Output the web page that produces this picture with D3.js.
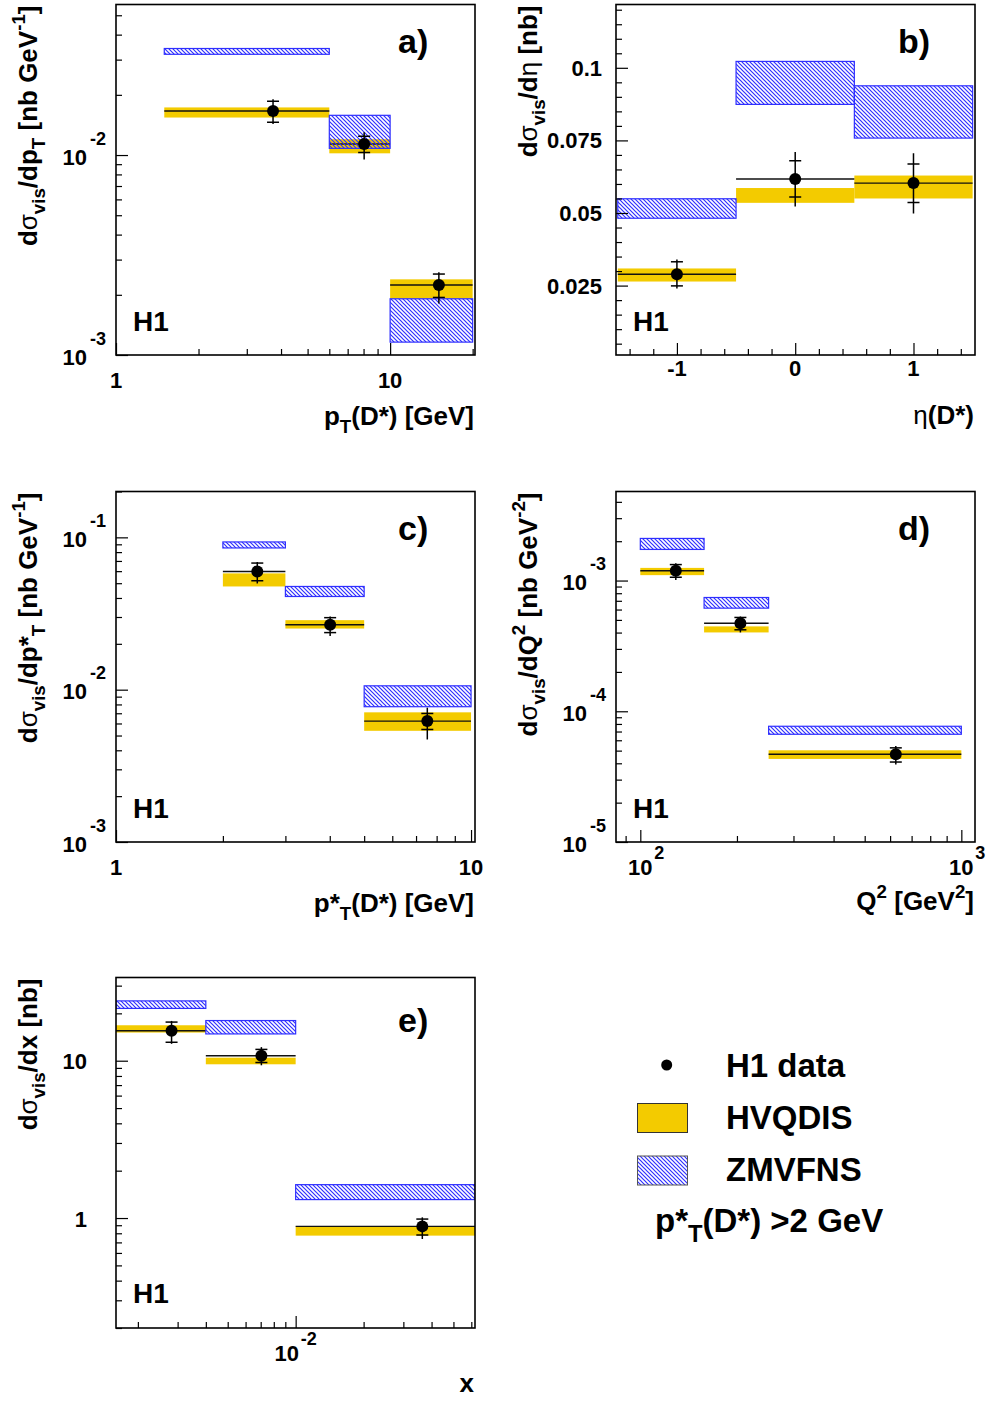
<!DOCTYPE html>
<html>
<head>
<meta charset="utf-8">
<script src="https://cdn.jsdelivr.net/npm/d3@7"></script>
<style>
  body { margin: 0; background: #fff; }
  svg { display: block; font-family: 'Liberation Sans', Arial, Helvetica, sans-serif; font-weight: bold; }
</style>
</head>
<body>
<svg id="fig" width="988" height="1402"></svg>
<script>
// ---------------- data (read off the H1 D* figure) ----------------
// a) pT(D*)
const aEdges = [1.5, 6, 10, 20]
const aX = [3.74, 8.04, 15.06]
const aVal = [0.0166, 0.01135, 0.00224]
const aStat = [[0.0146, 0.0186], [0.0103, 0.0124], [0.00194, 0.00254]]
const aTot = [[0.0143, 0.0190], [0.0095, 0.0130], [0.00181, 0.00259]]
const aHvq = [[0.0154, 0.0173], [0.0102, 0.0120], [0.00191, 0.00239]]
const aZm = [[0.0319, 0.0341], [0.0108, 0.0158], [0.00116, 0.00191]]

// b) eta(D*)
const bEdges = [-1.5, -0.5, 0.5, 1.5]
const bX = [-1, 0, 1]
const bVal = [0.0289, 0.0617, 0.0603]
const bStat = [[0.0249, 0.0332], [0.0555, 0.0680], [0.0536, 0.0669]]
const bTot = [[0.0240, 0.0340], [0.0522, 0.0710], [0.0498, 0.0706]]
const bHvq = [[0.0264, 0.0309], [0.0535, 0.0586], [0.0550, 0.0629]]
const bZm = [[0.0482, 0.0549], [0.0874, 0.1022], [0.0758, 0.0938]]

// c) p*T(D*)
const cEdges = [2, 3, 5, 10]
const cX = [2.50, 4.01, 7.53]
const cVal = [0.0597, 0.0267, 0.00622]
const cStat = [[0.0519, 0.0678], [0.0237, 0.0297], [0.00548, 0.00698]]
const cTot = [[0.0498, 0.0689], [0.0225, 0.0302], [0.00471, 0.00762]]
const cHvq = [[0.0476, 0.0580], [0.0252, 0.0286], [0.00537, 0.00710]]
const cZm = [[0.0852, 0.0933], [0.0409, 0.0476], [0.00773, 0.0106]]

// d) Q2
const dEdges = [100, 158, 251, 1000]
const dX = [129, 205, 625]
const dVal = [1.19e-3, 4.72e-4, 4.69e-5]
const dStat = [[1.06e-3, 1.325e-3], [4.2e-4, 5.22e-4], [4.09e-5, 5.25e-5]]
const dTot = [[1.01e-3, 1.355e-3], [4.01e-4, 5.31e-4], [3.91e-5, 5.42e-5]]
const dHvq = [[1.10e-3, 1.25e-3], [4.01e-4, 4.46e-4], [4.32e-5, 5.03e-5]]
const dZm = [[1.73e-3, 2.10e-3], [6.15e-4, 7.42e-4], [6.67e-5, 7.68e-5]]

// e) x
const eEdges = [0.0016, 0.004, 0.01, 0.0623]
const eX = [0.00282, 0.00705, 0.0364]
const eVal = [15.5, 10.75, 0.885]
const eStat = [[13.1, 17.6], [9.74, 11.8], [0.78, 0.985]]
const eTot = [[12.8, 17.9], [9.35, 12.2], [0.736, 1.01]]
const eHvq = [[15.1, 16.8], [9.49, 10.45], [0.773, 0.885]]
const eZm = [[21.5, 24.0], [14.8, 18.0], [1.31, 1.63]]

// axis ranges and tick labels
const aXDomain = [1, 20.4], aYDomain = [1e-3, 0.0566]
const bXDomain = [-1.515, 1.52], bYDomain = [0.0011, 0.1218]
const cXDomain = [1, 10.26], cYDomain = [1e-3, 0.2]
const dXDomain = [84, 1103], dYDomain = [1e-5, 4.8e-3]
const eXDomain = [0.0016, 0.0623], eYDomain = [0.2, 33.8]

const aXTicks = [1, 10], aXLabels = ['1', '10']
const aYTicks = [1e-3, 1e-2], aYLabels = ['10^-3', '10^-2']
const bXTicks = [-1, 0, 1], bXLabels = ['-1', '0', '1']
const bYTicks = [0.025, 0.05, 0.075, 0.1], bYLabels = ['0.025', '0.05', '0.075', '0.1']
const cXTicks = [1, 10], cXLabels = ['1', '10']
const cYTicks = [1e-3, 1e-2, 1e-1], cYLabels = ['10^-3', '10^-2', '10^-1']
const dXTicks = [100, 1000], dXLabels = ['10^2', '10^3']
const dYTicks = [1e-5, 1e-4, 1e-3], dYLabels = ['10^-5', '10^-4', '10^-3']
const eXTicks = [0.01], eXLabels = ['10^-2']
const eYTicks = [1, 10], eYLabels = ['1', '10']

// titles: [text, mode]  mode n = normal, sub, sup, g = greek (light)
const aYTitle = [['d', 'n'], ['σ', 'g'], ['vis', 'sub'], ['/dp', 'n'], ['T', 'sub'], [' [nb GeV', 'n'], ['-1', 'sup'], [']', 'n']]
const bYTitle = [['d', 'n'], ['σ', 'g'], ['vis', 'sub'], ['/d', 'n'], ['η', 'g'], [' [nb]', 'n']]
const cYTitle = [['d', 'n'], ['σ', 'g'], ['vis', 'sub'], ['/dp*', 'n'], ['T', 'sub'], [' [nb GeV', 'n'], ['-1', 'sup'], [']', 'n']]
const dYTitle = [['d', 'n'], ['σ', 'g'], ['vis', 'sub'], ['/dQ', 'n'], ['2', 'sup'], [' [nb GeV', 'n'], ['-2', 'sup'], [']', 'n']]
const eYTitle = [['d', 'n'], ['σ', 'g'], ['vis', 'sub'], ['/dx [nb]', 'n']]
const aXTitle = [['p', 'n'], ['T', 'sub'], ['(D*) [GeV]', 'n']]
const bXTitle = [['η', 'g'], ['(D*)', 'n']]
const cXTitle = [['p*', 'n'], ['T', 'sub'], ['(D*) [GeV]', 'n']]
const dXTitle = [['Q', 'n'], ['2', 'sup'], [' [GeV', 'n'], ['2', 'sup'], [']', 'n']]
const eXTitle = [['x', 'n']]

const legendNames = ['H1 data', 'HVQDIS', 'ZMVFNS']
const legendCut = [['p*', 'n'], ['T', 'sub'], ['(D*) >2 GeV', 'n']]

// ---------------- style ----------------
const YELLOW = '#f3cb00'
const BLUE = '#2f2fff'
const W = 359, H = 350.5
const TICK_FONT = 22, EXP_FONT = 18, TITLE_FONT = 26

const svg = d3.select('#fig')
const defs = svg.append('defs')
defs.append('pattern')
  .attr('id', 'hatch')
  .attr('patternUnits', 'userSpaceOnUse')
  .attr('width', 4).attr('height', 4)
  .append('path')
  .attr('d', 'M-1,-1 L5,5 M-1,3 L1,5 M3,-1 L5,1')
  .attr('stroke', BLUE).attr('stroke-width', 1.2)

// write a text made of parts with sub/superscripts
function rich(text, parts, size) {
  let shift = 0
  parts.forEach(([t, mode]) => {
    let target = 0, fs = size, fw = 'bold'
    if (mode === 'sub') { target = 0.3 * size; fs = 0.72 * size }
    if (mode === 'sup') { target = -0.45 * size; fs = 0.72 * size }
    if (mode === 'g') { fw = 'normal' }
    text.append('tspan')
      .attr('dy', target - shift)
      .attr('font-size', fs)
      .attr('font-weight', fw)
      .text(t)
    shift = target
  })
  return text
}

const panels = [
  { id: 'a', left: 116, top: 4.5, xLog: true, yLog: true, xDom: aXDomain, yDom: aYDomain,
    edges: aEdges, xs: aX, val: aVal, stat: aStat, tot: aTot, hvq: aHvq, zm: aZm,
    xTicks: aXTicks, xLabels: aXLabels, yTicks: aYTicks, yLabels: aYLabels,
    xTitle: aXTitle, yTitle: aYTitle, tag: 'a)', tagDy: 48.5, h1Dy: 24, titleDy: 70 },
  { id: 'b', left: 616, top: 4.5, xLog: false, yLog: false, xDom: bXDomain, yDom: bYDomain,
    edges: bEdges, xs: bX, val: bVal, stat: bStat, tot: bTot, hvq: bHvq, zm: bZm,
    xTicks: bXTicks, xLabels: bXLabels, yTicks: bYTicks, yLabels: bYLabels,
    xTitle: bXTitle, yTitle: bYTitle, tag: 'b)', tagDy: 48.5, h1Dy: 24, titleDy: 69 },
  { id: 'c', left: 116, top: 491.5, xLog: true, yLog: true, xDom: cXDomain, yDom: cYDomain,
    edges: cEdges, xs: cX, val: cVal, stat: cStat, tot: cTot, hvq: cHvq, zm: cZm,
    xTicks: cXTicks, xLabels: cXLabels, yTicks: cYTicks, yLabels: cYLabels,
    xTitle: cXTitle, yTitle: cYTitle, tag: 'c)', tagDy: 48.5, h1Dy: 24, titleDy: 70 },
  { id: 'd', left: 616, top: 491.5, xLog: true, yLog: true, xDom: dXDomain, yDom: dYDomain,
    edges: dEdges, xs: dX, val: dVal, stat: dStat, tot: dTot, hvq: dHvq, zm: dZm,
    xTicks: dXTicks, xLabels: dXLabels, yTicks: dYTicks, yLabels: dYLabels,
    xTitle: dXTitle, yTitle: dYTitle, tag: 'd)', tagDy: 48.5, h1Dy: 24, titleDy: 68 },
  { id: 'e', left: 116, top: 977.5, xLog: true, yLog: true, xDom: eXDomain, yDom: eYDomain,
    edges: eEdges, xs: eX, val: eVal, stat: eStat, tot: eTot, hvq: eHvq, zm: eZm,
    xTicks: eXTicks, xLabels: eXLabels, yTicks: eYTicks, yLabels: eYLabels,
    xTitle: eXTitle, yTitle: eYTitle, tag: 'e)', tagDy: 54, h1Dy: 25, titleDy: 64 }
]

function drawPanel(p) {
  const L = p.left, T = p.top, R = L + W, B = T + H
  const x = (p.xLog ? d3.scaleLog() : d3.scaleLinear()).domain(p.xDom).range([L, R])
  const y = (p.yLog ? d3.scaleLog() : d3.scaleLinear()).domain(p.yDom).range([B, T])
  const g = svg.append('g').attr('class', 'panel-' + p.id)

  defs.append('clipPath').attr('id', 'clip-' + p.id)
    .append('rect').attr('x', L).attr('y', T).attr('width', W).attr('height', H)
  const plot = g.append('g').attr('clip-path', `url(#clip-${p.id})`)

  const binX = i => x(p.edges[i])
  const binW = i => x(p.edges[i + 1]) - x(p.edges[i])

  // HVQDIS bands
  plot.selectAll('rect.hvq').data(p.hvq).join('rect')
    .attr('class', 'hvq')
    .attr('x', (d, i) => binX(i)).attr('width', (d, i) => binW(i))
    .attr('y', d => y(d[1])).attr('height', d => y(d[0]) - y(d[1]))
    .attr('fill', YELLOW)

  // data bin widths
  plot.selectAll('line.bin').data(p.val).join('line')
    .attr('class', 'bin')
    .attr('x1', (d, i) => binX(i)).attr('x2', (d, i) => binX(i) + binW(i))
    .attr('y1', d => y(d)).attr('y2', d => y(d))
    .attr('stroke', '#111').attr('stroke-width', 1.4)

  // ZMVFNS hatched bands
  plot.selectAll('rect.zm').data(p.zm).join('rect')
    .attr('class', 'zm')
    .attr('x', (d, i) => binX(i)).attr('width', (d, i) => binW(i))
    .attr('y', d => y(d[1])).attr('height', d => y(d[0]) - y(d[1]))
    .attr('fill', 'url(#hatch)')
    .attr('stroke', BLUE).attr('stroke-width', 1.2)

  // error bars: full line = total, ticks = statistical
  plot.selectAll('line.err').data(p.tot).join('line')
    .attr('class', 'err')
    .attr('x1', (d, i) => x(p.xs[i])).attr('x2', (d, i) => x(p.xs[i]))
    .attr('y1', d => y(d[0])).attr('y2', d => y(d[1]))
    .attr('stroke', '#000').attr('stroke-width', 1.5)
  const statEnds = p.stat.flatMap((d, i) => [[p.xs[i], d[0]], [p.xs[i], d[1]]])
  plot.selectAll('line.stat').data(statEnds).join('line')
    .attr('class', 'stat')
    .attr('x1', d => x(d[0]) - 6).attr('x2', d => x(d[0]) + 6)
    .attr('y1', d => y(d[1])).attr('y2', d => y(d[1]))
    .attr('stroke', '#000').attr('stroke-width', 1.5)

  plot.selectAll('circle.pt').data(p.val).join('circle')
    .attr('class', 'pt')
    .attr('cx', (d, i) => x(p.xs[i])).attr('cy', d => y(d))
    .attr('r', 6).attr('fill', '#000')

  // ticks (inside, left and bottom)
  let xMinor, yMinor
  if (p.xLog) xMinor = x.ticks().filter(t => Math.abs(Math.log10(t) - Math.round(Math.log10(t))) > 1e-6)
  else xMinor = d3.range(-7, 8).map(k => k * 0.2).filter(t => Math.abs(t - Math.round(t)) > 1e-6)
  if (p.yLog) yMinor = y.ticks().filter(t => Math.abs(Math.log10(t) - Math.round(Math.log10(t))) > 1e-6)
  else yMinor = d3.range(1, 25).map(k => k * 0.005).filter(t => Math.abs(t / 0.025 - Math.round(t / 0.025)) > 1e-6)

  const tickGroup = (axis, values, size, tr) => {
    g.append('g').attr('transform', tr)
      .call(axis.tickValues(values).tickSize(-size).tickSizeOuter(0).tickFormat(''))
      .call(s => s.select('.domain').remove())
      .call(s => s.selectAll('line').attr('stroke', '#000').attr('stroke-width', 1.2))
  }
  tickGroup(d3.axisBottom(x), xMinor, 6, `translate(0,${B})`)
  tickGroup(d3.axisBottom(x), p.xTicks, 12, `translate(0,${B})`)
  tickGroup(d3.axisLeft(y), yMinor, 6, `translate(${L},0)`)
  tickGroup(d3.axisLeft(y), p.yTicks, 12, `translate(${L},0)`)

  // frame
  g.append('rect')
    .attr('x', L).attr('y', T).attr('width', W).attr('height', H)
    .attr('fill', 'none').attr('stroke', '#000').attr('stroke-width', 1.6)

  // tick labels
  const labels = g.append('g').attr('font-size', TICK_FONT).attr('fill', '#000')
  p.xTicks.forEach((t, i) => {
    const [base, exp] = p.xLabels[i].split('^')
    if (!p.xLog) {
      labels.append('text').attr('x', x(t)).attr('y', B + 21).attr('text-anchor', 'middle').text(base)
      return
    }
    const shift = exp && exp.length > 1 ? 9 : 0
    labels.append('text').attr('x', x(t) - shift).attr('y', B + 33).attr('text-anchor', 'middle').text(base)
    if (exp) labels.append('text').attr('x', x(t) - shift + 14).attr('y', B + 16.5)
      .attr('font-size', EXP_FONT).text(exp)
  })
  p.yTicks.forEach((t, i) => {
    const [base, exp] = p.yLabels[i].split('^')
    if (!p.yLog) {
      labels.append('text').attr('x', L - 14).attr('y', y(t) + 8).attr('text-anchor', 'end').text(base)
      return
    }
    labels.append('text').attr('x', L - 29).attr('y', y(t) + (exp ? 9.5 : 8.5))
      .attr('text-anchor', 'end').text(base)
    if (exp) labels.append('text').attr('x', L - 26).attr('y', y(t) - 10.5)
      .attr('font-size', EXP_FONT).text(exp)
  })

  // axis titles
  rich(g.append('text').attr('x', R - 1).attr('y', B + p.titleDy).attr('text-anchor', 'end'), p.xTitle, TITLE_FONT)
  rich(g.append('text').attr('text-anchor', 'end')
    .attr('transform', `translate(${L - 79},${T + 1}) rotate(-90)`), p.yTitle, TITLE_FONT)

  // panel tag and H1
  g.append('text').attr('x', R - 77).attr('y', T + p.tagDy).attr('font-size', 34).text(p.tag)
  g.append('text').attr('x', L + 17).attr('y', B - p.h1Dy).attr('font-size', 28).text('H1')
}

panels.forEach(drawPanel)

// ---------------- legend ----------------
const leg = svg.append('g').attr('font-size', 33)
leg.append('circle').attr('cx', 666.7).attr('cy', 1065).attr('r', 5.5).attr('fill', '#000')
leg.append('rect').attr('x', 637.5).attr('y', 1103.5).attr('width', 50).attr('height', 29)
  .attr('fill', YELLOW).attr('stroke', '#333').attr('stroke-width', 1)
leg.append('rect').attr('x', 637.5).attr('y', 1156).attr('width', 50).attr('height', 29)
  .attr('fill', 'url(#hatch)').attr('stroke', '#555').attr('stroke-width', 1)
leg.selectAll('text.name').data(legendNames).join('text')
  .attr('class', 'name')
  .attr('x', 726).attr('y', (d, i) => [1077, 1129, 1181][i])
  .text(d => d)
rich(leg.append('text').attr('x', 655).attr('y', 1232), legendCut, 33)
</script>
</body>
</html>
